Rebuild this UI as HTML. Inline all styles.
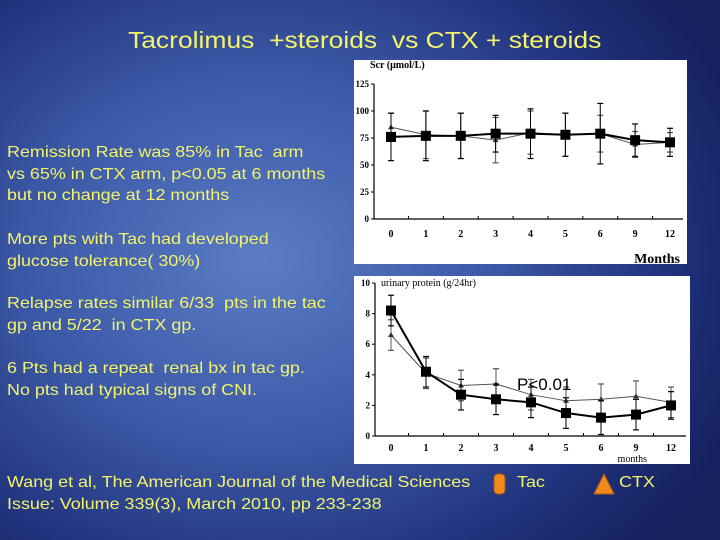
<!DOCTYPE html>
<html><head><meta charset="utf-8"><style>
html,body{margin:0;padding:0}
body{width:720px;height:540px;overflow:hidden;position:relative;font-family:"Liberation Sans",Arial,sans-serif;
background:radial-gradient(ellipse 520px 420px at 260px 260px,#5a7cc6 0%,#3b58a6 45%,#1f3079 80%,#16215e 100%);}
.t{position:absolute;color:#f4f46a;font-size:16px;line-height:21.5px;white-space:nowrap;transform:scaleX(1.12);transform-origin:0 0}
#title{position:absolute;left:128px;top:27px;color:#f4f46a;font-size:23px;white-space:nowrap;transform:scaleX(1.15);transform-origin:0 0}
svg{position:absolute;left:0;top:0}
</style></head><body>
<div id="title">Tacrolimus&nbsp; +steroids&nbsp; vs CTX + steroids</div>
<div class="t" style="left:7px;top:142px">Remission Rate was 85% in Tac&nbsp; arm<br>vs 65% in CTX arm, p&lt;0.05 at 6 months<br>but no change at 12 months</div>
<div class="t" style="left:7px;top:229px">More pts with Tac had developed<br>glucose tolerance( 30%)</div>
<div class="t" style="left:7px;top:293px">Relapse rates similar 6/33&nbsp; pts in the tac<br>gp and 5/22&nbsp; in CTX gp.</div>
<div class="t" style="left:7px;top:358px">6 Pts had a repeat&nbsp; renal bx in tac gp.<br>No pts had typical signs of CNI.</div>
<div class="t" style="left:7px;top:472px">Wang et al, The American Journal of the Medical Sciences<br>Issue: Volume 339(3), March 2010, pp 233-238</div>
<div class="t" style="left:517px;top:472px">Tac</div>
<div class="t" style="left:619px;top:472px">CTX</div>
<svg width="720" height="540" id="svg">
<rect x="494" y="474" width="11" height="20" rx="4" fill="#f08a1c" stroke="#b05a10"/>
<polygon points="594,494 604,474 614,494" fill="#f08a1c" stroke="#b05a10"/>
</svg>
<script>
const months=["0","1","2","3","4","5","6","9","12"];
const scrTac=[76,77,77,79,79,78,79,73,71];
const scrTacErr=[22,23,21,17,23,20,28,15,13];
const scrCtx=[85,78,77,73,80,78,79,69,71];
const scrCtxErr=[13,22,21,21,20,20,17,12,9];
const scrTicks=[0,25,50,75,100,125];
const upTac=[8.2,4.2,2.7,2.4,2.2,1.5,1.2,1.4,2.0];
const upTacErr=[1.0,1.0,1.0,1.0,1.0,1.0,1.1,1.0,0.9];
const upCtx=[6.6,4.1,3.3,3.4,2.7,2.3,2.4,2.6,2.2];
const upCtxErr=[1.0,1.0,1.0,1.0,1.0,0.9,1.0,1.0,1.0];
const upTicks=[0,2,4,6,8,10];
const NS="http://www.w3.org/2000/svg";
const svg=document.getElementById('svg');
function mk(tag,attrs,name,parent){const e=document.createElementNS(NS,tag);for(const k in attrs)e.setAttribute(k,attrs[k]);


(parent||svg).appendChild(e);return e;}
function chart(cfg){
 const g=mk('g',{},cfg.name);
 mk('rect',{x:cfg.px,y:cfg.py,width:cfg.pw,height:cfg.ph,fill:'#fff'},'chart-panel',g);
 const xs=i=>cfg.x0+i*(cfg.x1-cfg.x0)/(months.length-1);
 const ys=v=>cfg.y0-(v/cfg.ymax)*(cfg.y0-cfg.ytop);
 mk('line',{x1:cfg.ax,y1:cfg.y0,x2:cfg.px+cfg.pw-4,y2:cfg.y0,stroke:'#000','stroke-width':1.2},'x-axis',g);
 mk('line',{x1:cfg.ax,y1:cfg.y0,x2:cfg.ax,y2:cfg.ytop,stroke:'#000','stroke-width':1.2},'y-axis',g);
 cfg.ticks.forEach(t=>{mk('line',{x1:cfg.ax-3,x2:cfg.ax,y1:ys(t),y2:ys(t),stroke:'#000'},'y-tick',g);
  const tx=mk('text',{x:cfg.ax-5,y:ys(t)+3,'text-anchor':'end','font-size':9,'font-family':'Liberation Serif,serif','font-weight':'bold'},'y-tick-label',g);tx.textContent=t;});
 months.forEach((m,i)=>{if(i<months.length-1){const xm=(xs(i)+xs(i+1))/2;mk('line',{x1:xm,x2:xm,y1:cfg.y0,y2:cfg.y0-3,stroke:'#000'},'x-tick',g);}
  const tx=mk('text',{x:xs(i),y:cfg.y0+cfg.lab,'text-anchor':'middle','font-size':10,'font-family':'Liberation Serif,serif','font-weight':'bold'},'x-tick-label',g);tx.textContent=m;});
 const series=[[cfg.ctx,cfg.ctxErr,'#555','ctx'],[cfg.tac,cfg.tacErr,'#000','tac']];
 series.forEach(([vals,errs,col,nm])=>{
  vals.forEach((v,i)=>{const x=xs(i);
   mk('line',{x1:x,x2:x,y1:ys(v-errs[i]),y2:ys(v+errs[i]),stroke:col,'stroke-width':1},nm+'-error-bar',g);
   [v-errs[i],v+errs[i]].forEach(e=>mk('line',{x1:x-3,x2:x+3,y1:ys(e),y2:ys(e),stroke:col,'stroke-width':1.2},nm+'-error-cap',g));});
  mk('polyline',{points:vals.map((v,i)=>xs(i)+','+ys(v)).join(' '),fill:'none',stroke:col,'stroke-width':nm==='tac'?2:1},nm+'-line',g);
  vals.forEach((v,i)=>{const x=xs(i),y=ys(v);
   if(nm==='tac')mk('rect',{x:x-5,y:y-5,width:10,height:10,fill:'#000'},'tac-point',g);
   else mk('polygon',{points:`${x-3},${y+2} ${x},${y-3} ${x+3},${y+2}`,fill:'#333'},'ctx-point',g);});
 });
 const tt=mk('text',{x:cfg.titleX,y:cfg.titleY,'font-size':cfg.titleSize,'font-family':'Liberation Serif,serif','font-weight':cfg.titleBold?'bold':'normal'},'y-axis-title',g);tt.textContent=cfg.title;
 const xt=mk('text',{x:cfg.xtX,y:cfg.xtY,'text-anchor':'end','font-size':cfg.xtSize,'font-family':'Liberation Serif,serif','font-weight':cfg.xtBold?'bold':'normal'},'x-axis-title',g);xt.textContent=cfg.xt;
 return {xs,ys};
}
chart({name:'scr-chart',px:354,py:60,pw:333,ph:204,ax:374,x0:391,x1:670,y0:219,ytop:84,ymax:125,ticks:scrTicks,lab:18,
 tac:scrTac,tacErr:scrTacErr,ctx:scrCtx,ctxErr:scrCtxErr,title:'Scr (μmol/L)',titleX:370,titleY:68,titleSize:10,titleBold:true,
 xt:'Months',xtX:680,xtY:263,xtSize:14,xtBold:true});
chart({name:'protein-chart',px:354,py:276,pw:336,ph:188,ax:375,x0:391,x1:671,y0:436,ytop:283,ymax:10,ticks:upTicks,lab:15,
 tac:upTac,tacErr:upTacErr,ctx:upCtx,ctxErr:upCtxErr,title:'urinary protein (g/24hr)',titleX:381,titleY:286,titleSize:10,titleBold:false,
 xt:'months',xtX:647,xtY:462,xtSize:10,xtBold:false});
const p=mk('text',{x:517,y:390,'font-size':17,'font-family':'Liberation Sans,sans-serif'},'p-value-annotation');p.textContent='P<0.01';
</script>
</body></html>
